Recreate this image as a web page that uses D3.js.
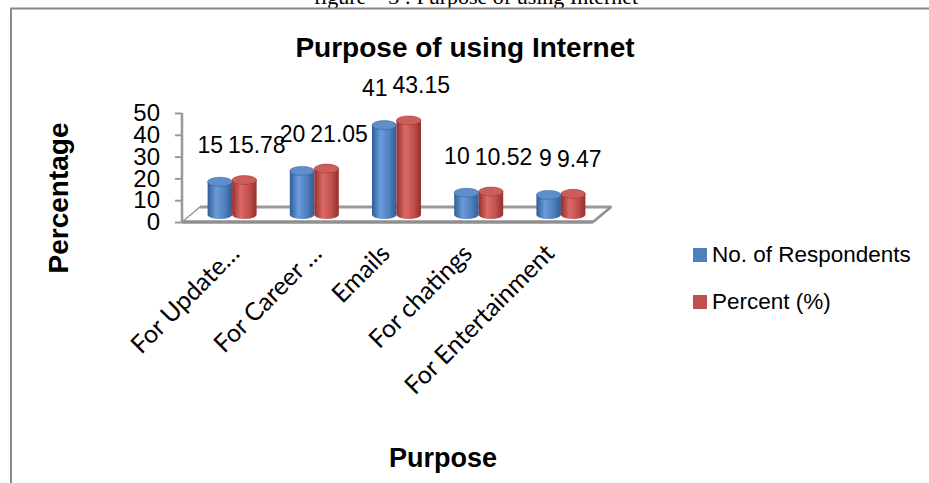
<!DOCTYPE html>
<html><head><meta charset="utf-8">
<script src="https://cdnjs.cloudflare.com/ajax/libs/d3/7.8.5/d3.min.js"></script>
<style>
html,body{margin:0;padding:0;background:#fff;}
svg{display:block;}
</style></head>
<body>
<script>
const categories = ["For Update…", "For Career …", "Emails", "For chatings", "For Entertainment"];
const respondents = [15, 20, 41, 10, 9];
const percent = [15.78, 21.05, 43.15, 10.52, 9.47];
const seriesNames = ["No. of Respondents", "Percent (%)"];
const yTicks = [0, 10, 20, 30, 40, 50];
const chartTitle = "Purpose of using Internet";
const captionText = "figure – 3 : Purpose of using Internet";
const xTitle = "Purpose";
const yTitle = "Percentage";

const W = 929, H = 483;
const svg = d3.select("body").append("svg").attr("width", W).attr("height", H);
const defs = svg.append("defs");
const sans = "Liberation Sans, Arial, sans-serif";

const colors = [
  {edge:"#2f5d99", mid:"#6b9bd9", base:"#4f81bd", top:"#5e8fcc", legend:"#4f81bd"},
  {edge:"#93302d", mid:"#dc6a67", base:"#c0504d", top:"#cd5d5a", legend:"#c0504d"}
];
colors.forEach((c, i) => {
  const g = defs.append("linearGradient").attr("id", "body" + i).attr("x1", 0).attr("x2", 1).attr("y1", 0).attr("y2", 0);
  g.append("stop").attr("offset", "0%").attr("stop-color", c.edge);
  g.append("stop").attr("offset", "35%").attr("stop-color", c.mid);
  g.append("stop").attr("offset", "70%").attr("stop-color", c.base);
  g.append("stop").attr("offset", "100%").attr("stop-color", c.edge);
});

// caption (cut off at top)
svg.append("text").attr("x", 476).attr("y", 4).attr("text-anchor", "middle")
  .attr("font-family", "Liberation Serif, Times New Roman, serif").attr("font-size", 22)
  .text(captionText);

// frame
svg.append("rect").attr("x", 11).attr("y", 8.5).attr("width", 940).attr("height", 500)
  .attr("fill", "none").attr("stroke", "#8a8a8a").attr("stroke-width", 2);

// title
svg.append("text").attr("x", 465).attr("y", 57).attr("text-anchor", "middle")
  .attr("font-family", sans).attr("font-weight", "bold").attr("font-size", 28)
  .text(chartTitle);

// scales
const y = d3.scaleLinear().domain([0, 50]).range([222, 113]);
const x = d3.scaleBand().domain(categories).range([182, 593]);
const depthX = 18, depthY = -15;
const midX = depthX / 2, midY = depthY / 2;
const barW = 24.5;
const inner = d3.scaleBand().domain([0, 1]).range([-barW, barW]);
const ry = 4.5;

// floor
const fl = [x.range()[0], x.range()[1]];
const floorG = svg.append("g");
floorG.append("path")
  .attr("d", `M${fl[0]},${y(0)} L${fl[0] + depthX},${y(0) + depthY} L${fl[1] + depthX},${y(0) + depthY} L${fl[1]},${y(0)} Z`)
  .attr("fill", "#fff").attr("stroke", "#9a9a9a").attr("stroke-width", 1.5);
floorG.append("line").attr("x1", fl[0] + depthX).attr("x2", fl[1] + depthX)
  .attr("y1", y(0) + depthY).attr("y2", y(0) + depthY).attr("stroke", "#9a9a9a").attr("stroke-width", 3);
floorG.append("line").attr("x1", fl[0]).attr("x2", fl[1])
  .attr("y1", y(0)).attr("y2", y(0)).attr("stroke", "#8f8f8f").attr("stroke-width", 3.5);
floorG.append("line").attr("x1", fl[1]).attr("x2", fl[1] + depthX)
  .attr("y1", y(0)).attr("y2", y(0) + depthY).attr("stroke", "#8f8f8f").attr("stroke-width", 2.5);

// y axis
const axis = d3.axisLeft(y).tickValues(yTicks).tickSize(7).tickPadding(15).tickFormat(d3.format("d"));
const ax = svg.append("g").attr("transform", `translate(${x.range()[0]},0)`).call(axis);
ax.select(".domain").remove();
ax.selectAll(".tick line").attr("stroke", "#999").attr("stroke-width", 2);
ax.selectAll(".tick text").attr("font-family", sans).attr("font-size", 24).attr("fill", "#000");
svg.append("line").attr("x1", x.range()[0]).attr("x2", x.range()[0]).attr("y1", y(50)).attr("y2", y(0) + 1)
  .attr("stroke", "#999").attr("stroke-width", 2.5);

// bars
const series = [respondents, percent];
const barsG = svg.append("g");
categories.forEach((c, ci) => {
  const pc = x(c) + x.bandwidth() / 2 + midX;
  series.forEach((vals, si) => {
    const v = vals[ci];
    const x0 = pc + inner(si);
    const cx = x0 + barW / 2;
    const yb = y(0) + midY;
    const yt = y(v) + midY;
    const rx = barW / 2;
    barsG.append("path")
      .attr("d", `M${x0},${yt} L${x0},${yb} A${rx},${ry} 0 0 0 ${x0 + barW},${yb} L${x0 + barW},${yt} Z`)
      .attr("fill", `url(#body${si})`);
    barsG.append("ellipse").attr("cx", cx).attr("cy", yt).attr("rx", rx).attr("ry", ry)
      .attr("fill", colors[si].top).attr("stroke", colors[si].edge).attr("stroke-width", 0.5);
  });
  // data labels
  svg.append("text").attr("x", pc - 9).attr("y", y(respondents[ci]) + midY - 29)
    .attr("text-anchor", "end").attr("font-family", sans).attr("font-size", 23).text(respondents[ci]);
  svg.append("text").attr("x", pc - 4).attr("y", y(percent[ci]) + midY - 27)
    .attr("text-anchor", "start").attr("font-family", sans).attr("font-size", 23).text(percent[ci]);
});

// category labels
categories.forEach(c => {
  const cx = x(c) + x.bandwidth() / 2 + (c.endsWith("…") ? 18 : 4);
  const cy = 255;
  svg.append("text").attr("transform", `translate(${cx},${cy}) rotate(-45)`)
    .attr("text-anchor", "end").attr("font-family", "Lato, Carlito, sans-serif").attr("font-size", 25)
    .text(c);
});

// axis titles
svg.append("text").attr("transform", "translate(68,198) rotate(-90)").attr("text-anchor", "middle")
  .attr("font-family", sans).attr("font-weight", "bold").attr("font-size", 28)
  .text(yTitle);
svg.append("text").attr("x", 443).attr("y", 467).attr("text-anchor", "middle")
  .attr("font-family", sans).attr("font-weight", "bold").attr("font-size", 27)
  .text(xTitle);

// legend
const lg = svg.append("g");
seriesNames.forEach((n, i) => {
  const ly = 248 + i * 47;
  lg.append("rect").attr("x", 693).attr("y", ly).attr("width", 14).attr("height", 14).attr("fill", colors[i].legend);
  lg.append("text").attr("x", 712).attr("y", ly + 14).attr("font-family", sans)
    .attr("font-size", 22.5).text(n);
});
</script>
</body></html>
